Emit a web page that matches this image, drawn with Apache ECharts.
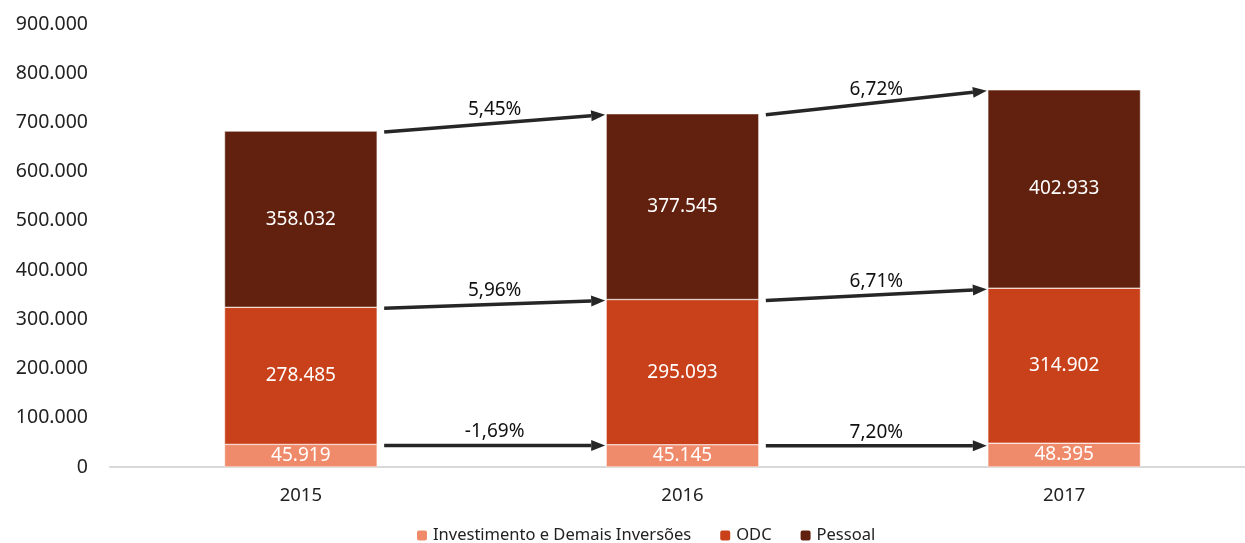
<html>
<head>
    <meta charset="UTF-8">
    <title>Despesas 2015-2017</title>
    <script src="https://cdn.jsdelivr.net/npm/echarts@6/dist/echarts.min.js"></script>
    <style>
        body { margin: 0; background: #fff; }
        #chart { width: 1245px; height: 543px; }
    </style>
</head>
<body>
    <div id="chart"></div>
    <script>
        var years = ['2015', '2016', '2017'];
        var investimento = [45919, 45145, 48395];
        var odc = [278485, 295093, 314902];
        var pessoal = [358032, 377545, 402933];
        // variação de um ano para o outro (base, ODC, total)
        var varInvest = ['-1,69%', '7,20%'];
        var varOdc = ['5,96%', '6,71%'];
        var varTotal = ['5,45%', '6,72%'];

        var font = 'Noto Sans';
        function fmt(v) {
            return String(v).replace(/\B(?=(\d{3})+(?!\d))/g, '.');
        }

        // arrows start/end at the top of each stacked segment
        var arrows = [];
        for (var i = 0; i < years.length - 1; i++) {
            var lvl1a = investimento[i], lvl1b = investimento[i + 1];
            var lvl2a = lvl1a + odc[i], lvl2b = lvl1b + odc[i + 1];
            var lvl3a = lvl2a + pessoal[i], lvl3b = lvl2b + pessoal[i + 1];
            arrows.push([i, lvl1a, lvl1a, varInvest[i]]);
            arrows.push([i, lvl2a, lvl2b, varOdc[i]]);
            arrows.push([i, lvl3a, lvl3b, varTotal[i]]);
        }

        var chart = echarts.init(document.getElementById('chart'));
        var lbl = { show: true, color: '#fff', fontFamily: font, fontSize: 19, formatter: function (p) { return fmt(p.value); } };

        chart.setOption({
            animation: false,
            grid: { left: 110, top: 24, bottom: 76, width: 1145, outerBoundsMode: 'none' },
            legend: {
                top: 522, left: 410, itemWidth: 12, itemHeight: 12, itemGap: 27,
                textStyle: { fontFamily: font, fontSize: 16.5, color: '#222' },
                data: ['Investimento e Demais Inversões', 'ODC', 'Pessoal']
            },
            xAxis: {
                type: 'category', data: years,
                axisLine: { lineStyle: { color: '#d9d9d9', width: 2 } },
                axisTick: { show: false },
                axisLabel: { fontFamily: font, fontSize: 18.5, color: '#222', margin: 19 }
            },
            yAxis: {
                type: 'value', min: 0, max: 900000, interval: 100000,
                axisLine: { show: false }, axisTick: { show: false }, splitLine: { show: false },
                axisLabel: { fontFamily: font, fontSize: 19.5, color: '#222', margin: 22, formatter: fmt }
            },
            series: [
                { name: 'Investimento e Demais Inversões', type: 'bar', stack: 't', barWidth: '40%', data: investimento,
                  itemStyle: { color: '#ef8a6a', borderColor: '#fff', borderWidth: 0.5 }, label: lbl },
                { name: 'ODC', type: 'bar', stack: 't', data: odc,
                  itemStyle: { color: '#c9411a', borderColor: '#fff', borderWidth: 0.5 }, label: lbl },
                { name: 'Pessoal', type: 'bar', stack: 't', data: pessoal,
                  itemStyle: { color: '#62200e', borderColor: '#fff', borderWidth: 0.5 }, label: lbl },
                {
                    type: 'custom', data: arrows, clip: false, silent: true,
                    renderItem: function (params, api) {
                        var i = api.value(0);
                        var half = api.size([1, 0])[0] * 0.2;
                        var p0 = api.coord([i, api.value(1)]);
                        var p1 = api.coord([i + 1, api.value(2)]);
                        var x0 = p0[0] + half + 7, y0 = p0[1] + 1;
                        var x1 = p1[0] - half - 1, y1 = p1[1] + 1;
                        var ang = Math.atan2(y1 - y0, x1 - x0);
                        var hl = 14, hw = 5.5;
                        var bx = x1 - hl * Math.cos(ang), by = y1 - hl * Math.sin(ang);
                        var nx = -Math.sin(ang) * hw, ny = Math.cos(ang) * hw;
                        return {
                            type: 'group',
                            children: [
                                { type: 'line', shape: { x1: x0, y1: y0, x2: bx, y2: by },
                                  style: { stroke: '#262626', lineWidth: 3.5 } },
                                { type: 'polygon', shape: { points: [[x1, y1], [bx + nx, by + ny], [bx - nx, by - ny]] },
                                  style: { fill: '#262626' } },
                                { type: 'text', x: (x0 + x1) / 2, y: (y0 + y1) / 2 - 4,
                                  style: { text: api.value(3), fill: '#111', font: '19px "Noto Sans"',
                                           align: 'center', verticalAlign: 'bottom' } }
                            ]
                        };
                    },
                    encode: { x: 0, y: [1, 2] }
                }
            ]
        });
    </script>
</body>
</html>
